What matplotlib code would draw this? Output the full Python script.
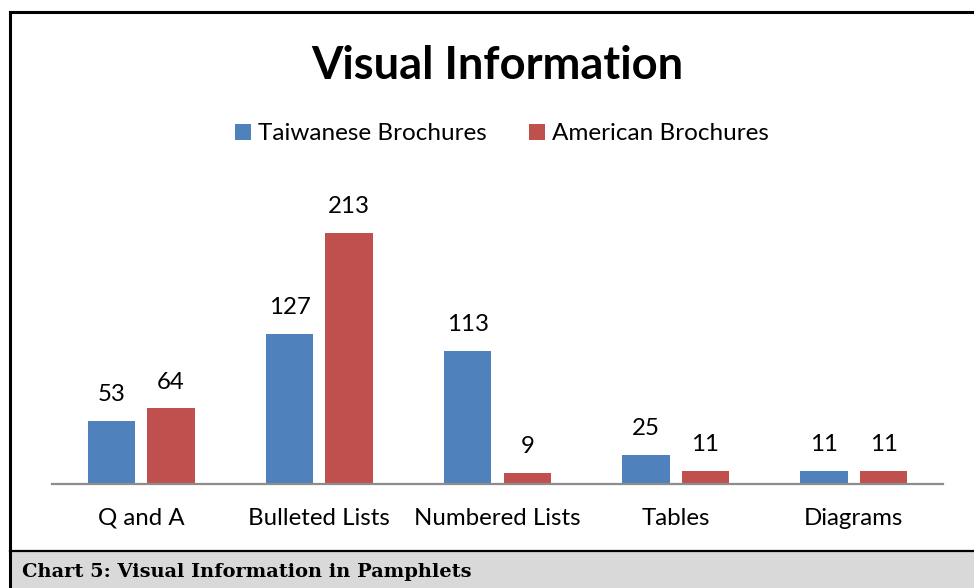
import matplotlib
matplotlib.use("Agg")
import matplotlib.pyplot as plt
from matplotlib.patches import Rectangle
from matplotlib.lines import Line2D
import numpy as np

categories = ["Q and A", "Bulleted Lists", "Numbered Lists", "Tables", "Diagrams"]
taiwanese = [53, 127, 113, 25, 11]
american = [64, 213, 9, 11, 11]
series_names = ["Taiwanese Brochures", "American Brochures"]
colors = ["#4F81BD", "#C0504D"]
title = "Visual Information"
caption = "Chart 5: Visual Information in Pamphlets"

W, H = 974, 588
fig = plt.figure(figsize=(W / 100, H / 100), dpi=100)
FONT = "Lato"

def fx(px):
    return px / W

def fy(py):
    return 1 - py / H

# axes: baseline at y=484, left 52, right 943, top at y=180
ax = fig.add_axes([fx(52), fy(484), fx(943) - fx(52), fy(180) - fy(484)])
ymax = (484 - 180) / 1.18
x = np.arange(len(categories))
bw = 0.266
off = 0.167
b1 = ax.bar(x - off, taiwanese, bw, color=colors[0], label=series_names[0])
b2 = ax.bar(x + off, american, bw, color=colors[1], label=series_names[1])
ax.set_xlim(-0.5, len(categories) - 0.5)
ax.set_ylim(0, ymax)
for bars, vals in ((b1, taiwanese), (b2, american)):
    for r, v in zip(bars, vals):
        ax.annotate(str(v), (r.get_x() + r.get_width() / 2, v), xytext=(0, 11.5),
                    textcoords="offset points", ha="center", va="bottom",
                    fontsize=17.3, family=FONT, color="black")
for s in ["top", "right", "left"]:
    ax.spines[s].set_visible(False)
ax.spines["bottom"].set_color("#8c8c8c")
ax.spines["bottom"].set_linewidth(1.6)
ax.set_yticks([])
ax.set_xticks(x)
ax.set_xticklabels(categories, fontsize=17.3, family=FONT)
ax.tick_params(axis="x", length=0, pad=17)

fig.text(fx(497), fy(66), title, ha="center", va="center", fontsize=32.6,
         fontweight="bold", family=FONT)

leg = fig.legend(handles=[b1, b2], labels=series_names, loc="center",
                 bbox_to_anchor=(fx(502), fy(134)), ncol=2, frameon=False,
                 prop={"family": FONT, "size": 17.5}, handlelength=0.66,
                 handleheight=0.66, handletextpad=0.28, columnspacing=1.72)

# borders and caption
fig.add_artist(Rectangle((fx(9), 0), 1 - fx(9), fy(551), transform=fig.transFigure,
                         facecolor="#d9d9d9", edgecolor="none", zorder=0))
fig.add_artist(Line2D([fx(9.5), 1], [fy(12), fy(12)], color="black", lw=2.2,
                      transform=fig.transFigure))
fig.add_artist(Line2D([fx(9.5), fx(9.5)], [0, fy(12)], color="black", lw=2.2,
                      transform=fig.transFigure))
fig.add_artist(Line2D([fx(9.5), 1], [fy(551), fy(551)], color="black", lw=1.6,
                      transform=fig.transFigure))
fig.text(fx(22), fy(572), caption, ha="left", va="center", fontsize=13.95,
         fontweight="bold", family="DejaVu Serif")

fig.savefig("out.png", dpi=100)
